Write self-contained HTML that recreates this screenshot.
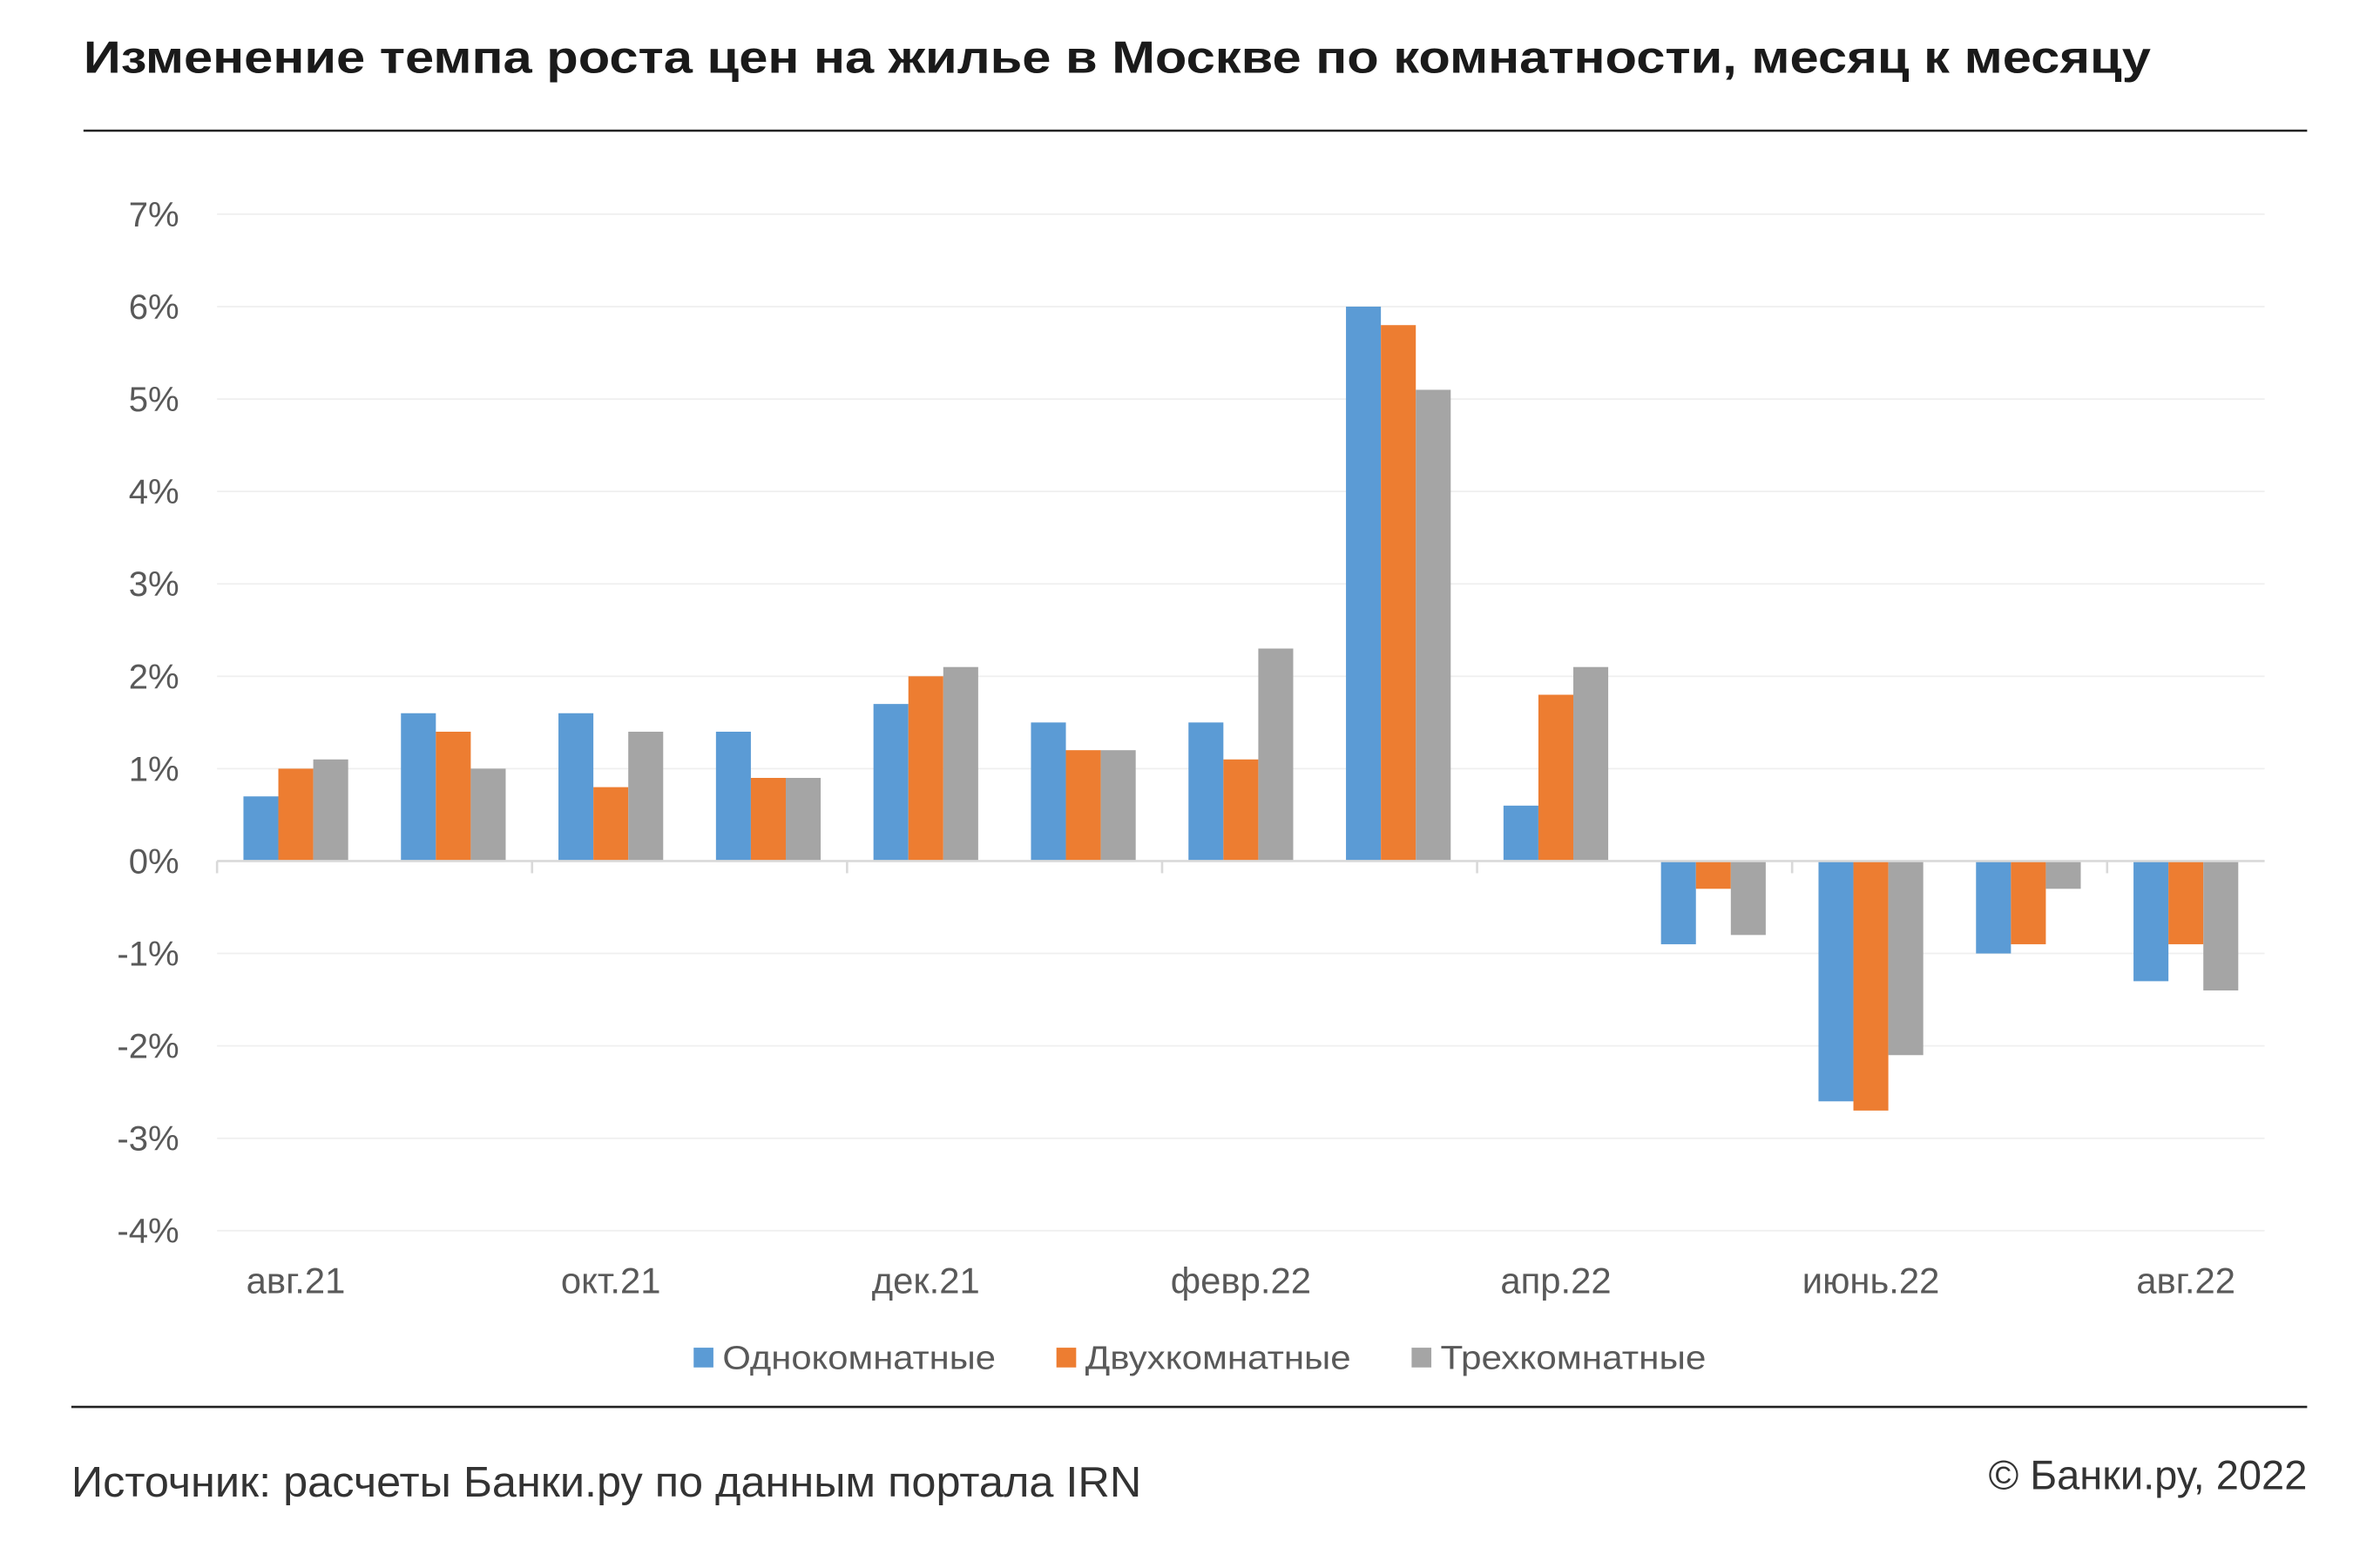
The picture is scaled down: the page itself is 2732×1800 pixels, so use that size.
<!DOCTYPE html>
<html><head><meta charset="utf-8"><style>
html,body{margin:0;padding:0;background:#fff;}
svg{display:block;font-family:"Liberation Sans","Noto Sans CJK SC",sans-serif;}
</style></head><body>
<svg id="chart" width="2732" height="1800" viewBox="0 0 1568 1032" preserveAspectRatio="none" xmlns="http://www.w3.org/2000/svg">
<text x="55" y="48" font-size="30" font-weight="bold" fill="#1a1a1a" textLength="1362" lengthAdjust="spacingAndGlyphs">Изменение темпа роста цен на жилье в Москве по комнатности, месяц к месяцу</text>
<line x1="55" y1="86" x2="1520" y2="86" stroke="#222" stroke-width="1.5"/>
<g id="grid"></g><g id="bars"></g><g id="axis"></g>
<g>
<rect x="457" y="887" width="13" height="13" fill="#5B9BD5"/>
<text x="476" y="901" font-size="22" fill="#595959" textLength="180" lengthAdjust="spacingAndGlyphs">Однокомнатные</text>
<rect x="696" y="887" width="13" height="13" fill="#ED7D31"/>
<text x="715" y="901" font-size="22" fill="#595959" textLength="175" lengthAdjust="spacingAndGlyphs">Двухкомнатные</text>
<rect x="930" y="887" width="13" height="13" fill="#A5A5A5"/>
<text x="949" y="901" font-size="22" fill="#595959" textLength="175" lengthAdjust="spacingAndGlyphs">Трехкомнатные</text>
</g>
<line x1="47" y1="926" x2="1520" y2="926" stroke="#222" stroke-width="1.5"/>
<text x="47" y="985" font-size="28" fill="#333" textLength="705" lengthAdjust="spacingAndGlyphs">Источник: расчеты Банки.ру по данным портала IRN</text>
<text x="1520" y="980" font-size="27" fill="#333" text-anchor="end">© Банки.ру, 2022</text>
</svg>
<script>
const categories=["авг.21","сент.21","окт.21","нояб.21","дек.21","янв.22","февр.22","март.22","апр.22","май.22","июнь.22","июль.22","авг.22"];
const oneRoom=[0.7,1.6,1.6,1.4,1.7,1.5,1.5,6.0,0.6,-0.9,-2.6,-1.0,-1.3];
const twoRoom=[1.0,1.4,0.8,0.9,2.0,1.2,1.1,5.8,1.8,-0.3,-2.7,-0.9,-0.9];
const threeRoom=[1.1,1.0,1.4,0.9,2.1,1.2,2.3,5.1,2.1,-0.8,-2.1,-0.3,-1.4];
const yTicks=[7,6,5,4,3,2,1,0,-1,-2,-3,-4];
const NS="http://www.w3.org/2000/svg";
const x0=143,x1=1492,yTop=141,yBot=810,vMax=7,vMin=-4;
const bandW=(x1-x0)/categories.length;
function y(v){return yTop+(vMax-v)*(yBot-yTop)/(vMax-vMin);}
function xc(i){return x0+bandW*(i+0.5);}
function mk(tag,attrs,parent){const e=document.createElementNS(NS,tag);for(const k in attrs)e.setAttribute(k,attrs[k]);parent.appendChild(e);return e;}
const grid=document.getElementById('grid'),bars=document.getElementById('bars'),axis=document.getElementById('axis');
yTicks.forEach(t=>{
  if(t!==0){const l=mk('line',{x1:x0,x2:x1,y1:y(t),y2:y(t),stroke:'#efefef','stroke-width':1},grid);
  
  }
  const tx=mk('text',{x:118,y:y(t)+8,'font-size':23,fill:'#595959','text-anchor':'end'},axis);
  tx.textContent=t+'%';
  
  
});
const series=[[oneRoom,'#5B9BD5','one-room'],[twoRoom,'#ED7D31','two-room'],[threeRoom,'#A5A5A5','three-room']];
const bw=23;
series.forEach((s,si)=>{
  s[0].forEach((v,i)=>{
    const bx=xc(i)-1.5*bw+si*bw;
    const r=mk('rect',{x:bx,y:Math.min(y(v),y(0)),width:bw,height:Math.abs(y(v)-y(0)),fill:s[1]},bars);
    
    
  });
});
const zl=mk('line',{x1:x0,x2:x1,y1:y(0),y2:y(0),stroke:'#d9d9d9','stroke-width':1.5},axis);


for(let i=0;i<=categories.length;i+=2){
  const tk=mk('line',{x1:x0+i*bandW,x2:x0+i*bandW,y1:y(0),y2:y(0)+8,stroke:'#d9d9d9','stroke-width':1.5},axis);
  
  
}
categories.forEach((c,i)=>{
  if(i%2)return;
  const t=mk('text',{x:xc(i),y:851,'font-size':24,fill:'#595959','text-anchor':'middle'},axis);
  t.textContent=c;
  
  
});
</script>
</body></html>
